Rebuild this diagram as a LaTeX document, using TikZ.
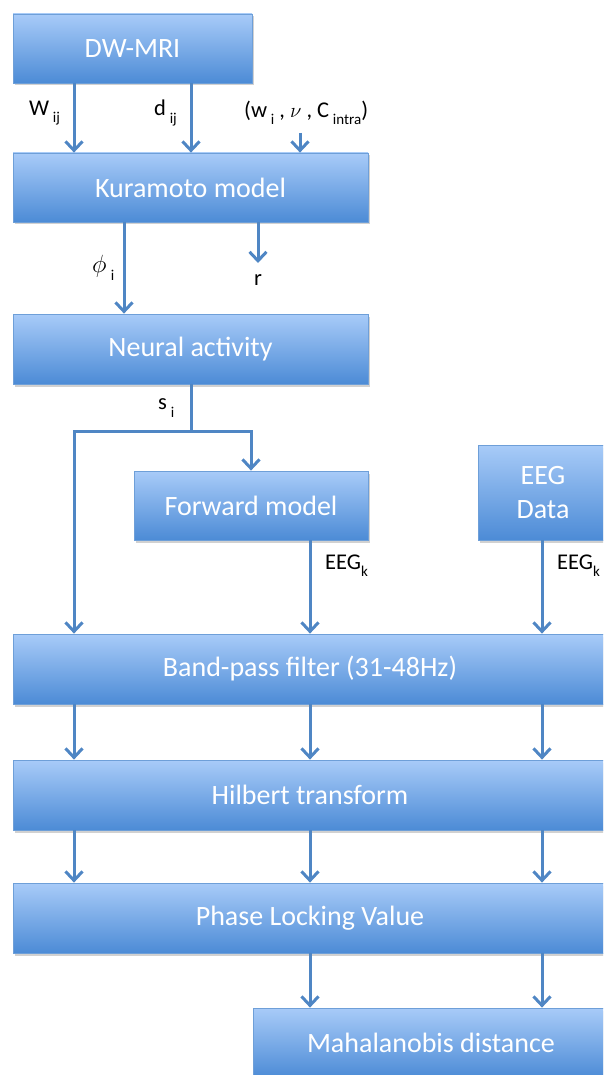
\documentclass[tikz,border=0pt]{standalone}
\usepackage{fontspec}
\setmainfont{Carlito}
\usetikzlibrary{arrows.meta,shadows}
\definecolor{boxtop}{HTML}{A8CBF8}
\definecolor{boxbot}{HTML}{4C8BD6}
\definecolor{boxedge}{HTML}{6E9FD8}
\definecolor{arrowc}{HTML}{4F86C4}
\newcommand{\sbs}[1]{\,\raisebox{-0.32em}{\fontsize{15}{15}\selectfont #1}}
\newcommand{\sbt}[1]{\raisebox{-0.32em}{\fontsize{15}{15}\selectfont #1}}
\begin{document}
\begin{tikzpicture}[x=1pt,y=-1pt,
  box/.style={draw=boxedge, line width=0.8pt, top color=boxtop, bottom color=boxbot,
    text=white, font=\fontsize{28}{34}\selectfont, inner sep=0pt, align=center,
    drop shadow={shadow xshift=1.5pt, shadow yshift=-2.5pt, opacity=0.3, fill=black!60}},
  conn/.style={draw=arrowc, line width=3pt},
  arr/.style={conn, -{Straight Barb[length=9pt,width=17pt]}},
  lbl/.style={font=\fontsize{22.5}{24}\selectfont, inner sep=0pt, text=black}]
\useasboundingbox (0,0) rectangle (603,1075);
\clip (0,0) rectangle (603,1075);

% boxes
\node[box, minimum width=239pt, minimum height=69pt] (dw) at (132.5,48.5) {DW-MRI};
\node[box, minimum width=355pt, minimum height=69pt] (kur) at (190.5,187.5) {Kuramoto model};
\node[box, minimum width=355pt, minimum height=70pt] (na) at (190.5,349) {Neural activity};
\node[box, minimum width=234pt, minimum height=69pt] (fm) at (251,505.5) {Forward model};
\node[box, minimum width=130pt, minimum height=95pt] (eeg) at (543,492.5) {EEG\\Data};
\node[box, minimum width=594pt, minimum height=70pt] (bp) at (310,669) {Band-pass filter (31-48Hz)};
\node[box, minimum width=594pt, minimum height=70pt] (hil) at (310,795) {Hilbert transform};
\node[box, minimum width=594pt, minimum height=70pt] (plv) at (310,918) {Phase Locking Value};
\node[box, minimum width=356pt, minimum height=70pt] (mah) at (431,1043) {Mahalanobis distance};

% column coordinates
\coordinate (cA) at (74,0);
\coordinate (cB) at (191,0);
\coordinate (cC) at (300,0);
\coordinate (cPhi) at (124,0);
\coordinate (cR) at (258,0);
\coordinate (cM) at (310,0);
\coordinate (cE) at (542,0);
\coordinate (tupstart) at (300,133);
\coordinate (rend) at (258,263);
\coordinate (junc) at (191,431);

% DW-MRI -> Kuramoto
\draw[arr] (dw.south -| cA) -- (kur.north -| cA);
\draw[arr] (dw.south -| cB) -- (kur.north -| cB);
\draw[arr] (tupstart) -- (kur.north -| cC);
\node[lbl, anchor=west] (lW) at (29,113) {W\sbs{ij}};
\node[lbl, anchor=west] (ld) at (154,113) {d\sbs{ij}};
\node[lbl, anchor=west] (ltup) at (244,113) {(w\sbs{i} , $\nu$ , C\sbs{intra})};

% Kuramoto -> Neural activity, r
\draw[arr] (kur.south -| cPhi) -- (na.north -| cPhi);
\draw[arr] (kur.south -| cR) -- (rend);
\node[lbl, anchor=west] (lphi) at (92,268) {\fontsize{26}{26}\selectfont$\phi$\sbs{i}};
\node[lbl] (lr) at (258,280) {r};

% Neural activity split
\draw[conn] (na.south -| cB) -- (junc);
\draw[arr] (junc) -| (bp.north -| cA);
\draw[arr] (junc) -| (fm.north);
\node[lbl, anchor=west] (ls) at (158,408) {s\sbs{i}};

% Forward model and EEG data -> band-pass
\draw[arr] (fm.south -| cM) -- (bp.north -| cM);
\draw[arr] (eeg.south -| cE) -- (bp.north -| cE);
\node[lbl, anchor=west] (lk1) at (325,566) {EEG\sbt{k}};
\node[lbl, anchor=west] (lk2) at (557,566) {EEG\sbt{k}};

% band-pass -> Hilbert -> PLV
\foreach \c in {cA,cM,cE} {
  \draw[arr] (bp.south -| \c) -- (hil.north -| \c);
  \draw[arr] (hil.south -| \c) -- (plv.north -| \c);
}
% PLV -> Mahalanobis
\draw[arr] (plv.south -| cM) -- (mah.north -| cM);
\draw[arr] (plv.south -| cE) -- (mah.north -| cE);
\end{tikzpicture}
\end{document}
